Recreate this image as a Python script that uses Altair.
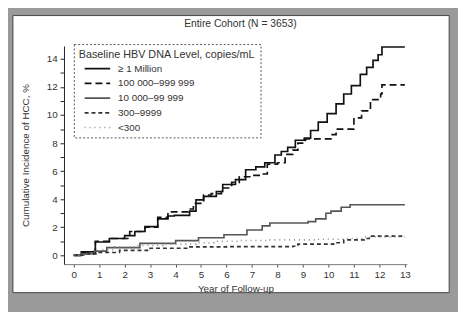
import altair as alt
import pandas as pd

# ---- data (step curves: year, cumulative %) ----
levels = ["≥ 1 Million", "100 000–999 999", "10 000–99 999", "300–9999", "<300"]

yr_1m = [0, 0.3, 0.85, 1.4, 2.0, 2.4, 2.8, 3.3, 3.7, 3.95, 4.55, 4.8, 5.1, 5.6, 5.85, 6.35, 6.75, 7.15, 7.5, 7.9, 8.15, 8.4, 8.7, 9.05, 9.3, 9.6, 9.95, 10.3, 10.6, 10.9, 11.25, 11.5, 11.75, 11.95, 12.1, 13.0]
pc_1m = [0, 0.25, 0.95, 1.2, 1.4, 1.7, 2.05, 2.6, 2.8, 2.85, 3.15, 3.95, 4.2, 4.55, 5.05, 5.4, 6.1, 6.3, 6.6, 7.15, 7.4, 7.7, 8.2, 8.35, 8.9, 9.5, 10.1, 10.8, 11.5, 12.1, 12.9, 13.4, 13.9, 14.3, 14.85, 14.85]

yr_100k = [0, 0.3, 0.85, 1.4, 2.2, 2.8, 3.3, 3.7, 4.1, 4.5, 4.7, 5.1, 5.4, 5.8, 6.2, 6.5, 7.0, 7.4, 7.6, 8.0, 8.3, 8.6, 8.8, 9.1, 10.1, 10.3, 10.95, 11.0, 11.3, 11.65, 12.05, 12.1, 13.0]
pc_100k = [0, 0.2, 1.0, 1.2, 1.7, 2.0, 2.7, 3.1, 3.1, 3.3, 3.7, 4.3, 4.4, 4.8, 5.2, 5.6, 5.7, 5.8, 6.5, 6.6, 7.2, 7.5, 8.0, 8.3, 8.6, 9.0, 9.0, 9.8, 10.3, 11.1, 11.5, 12.15, 12.15]

yr_10k = [0, 0.3, 0.8, 1.3, 2.6, 4.0, 4.9, 5.9, 6.8, 7.4, 7.7, 9.2, 9.5, 9.9, 10.1, 10.5, 10.85, 13.0]
pc_10k = [0, 0.1, 0.3, 0.55, 0.85, 1.05, 1.25, 1.47, 1.8, 2.1, 2.3, 2.4, 2.6, 3.0, 3.15, 3.43, 3.6, 3.6]

yr_300 = [0, 0.5, 1.0, 1.8, 3.0, 4.5, 6.0, 8.6, 8.8, 10.2, 10.6, 11.4, 11.6, 13.0]
pc_300 = [0, 0.1, 0.2, 0.35, 0.5, 0.6, 0.62, 0.65, 0.8, 0.9, 1.1, 1.2, 1.37, 1.37]

yr_lt300 = [0, 0.4, 1.0, 1.6, 2.5, 3.5, 4.8, 5.5, 6.5, 7.6, 9.5, 10.6, 11.4, 13.0]
pc_lt300 = [0, 0.15, 0.4, 0.6, 0.7, 0.8, 0.9, 1.0, 1.05, 1.1, 1.15, 1.2, 1.3, 1.3]

series = [(levels[0], yr_1m, pc_1m), (levels[1], yr_100k, pc_100k),
          (levels[2], yr_10k, pc_10k), (levels[3], yr_300, pc_300),
          (levels[4], yr_lt300, pc_lt300)]

rows = []
for name, xs, ys in series:
    for i, (x, y) in enumerate(zip(xs, ys)):
        rows.append({"level": name, "year": x, "pct": y, "order": i})
df = pd.DataFrame(rows)

x_ticks = list(range(0, 14))
y_ticks = list(range(0, 15))

FONT = "Liberation Sans"
LEG_TITLE = "Baseline HBV DNA Level, copies/mL"

panel = alt.Chart(pd.DataFrame({"a": [0]})).mark_rect(
    fill="white", stroke="#444", strokeWidth=1
).encode(
    x=alt.value(-52), x2=alt.value(392), y=alt.value(-31), y2=alt.value(251)
)

lines = alt.Chart(df).mark_line(interpolate="step-after", clip=False).encode(
    x=alt.X("year:Q", scale=alt.Scale(domain=[-0.38, 13.08], nice=False, zero=False),
            axis=alt.Axis(values=x_ticks, title="Year of Follow-up", grid=False,
                          tickSize=3, labelPadding=3, titlePadding=4, zindex=1,
                          domainColor="#777", tickColor="#555")),
    y=alt.Y("pct:Q", scale=alt.Scale(domain=[-0.63, 14.92], nice=False, zero=False),
            axis=alt.Axis(values=y_ticks, title="Cumulative Incidence of HCC, %", grid=False,
                          labelExpr="datum.value % 2 == 0 ? datum.label : ''",
                          tickSize=4, labelPadding=3, titlePadding=16, zindex=1,
                          domainColor="#222", tickColor="#222")),
    color=alt.Color("level:N", scale=alt.Scale(domain=levels,
                    range=["#111111", "#111111", "#555555", "#333333", "#8a8a8a"]),
                    legend=alt.Legend(title=LEG_TITLE)),
    strokeDash=alt.StrokeDash("level:N", scale=alt.Scale(domain=levels,
                    range=[[1, 0], [7, 4], [1, 0], [4, 3], [1, 4]]),
                    legend=alt.Legend(title=LEG_TITLE)),
    strokeWidth=alt.StrokeWidth("level:N", scale=alt.Scale(domain=levels,
                    range=[1.7, 1.6, 1.0, 1.1, 1.2]),
                    legend=alt.Legend(title=LEG_TITLE)),
    order="order:Q",
)

chart = alt.layer(panel, lines).properties(
    width=349, height=222,
    autosize=alt.AutoSizeParams(type="none"),
    padding={"left": 57, "top": 36, "right": 52, "bottom": 46},
    background="#9a9a9a",
    title=alt.TitleParams("Entire Cohort (N = 3653)", fontSize=10.5, fontWeight="normal",
                          font=FONT, color="#333", offset=-15, dx=5, zindex=1,
                          frame="group"),
).configure_view(stroke=None).configure_axis(
    labelFont=FONT, titleFont=FONT, labelFontSize=10, titleFontSize=10,
    titleFontWeight="normal", labelColor="#333", titleColor="#333",
).configure_legend(
    orient="none", legendX=10, legendY=-2, padding=5, fillColor="white",
    strokeColor="#555", strokeDash=[2, 2], titleFont=FONT, labelFont=FONT,
    titleFontSize=11, titleFontWeight="normal", labelFontSize=10,
    titleColor="#333", labelColor="#333", symbolType="M0,0H5.2", symbolSize=100,
    rowPadding=4, titlePadding=3, labelOffset=28, zindex=1,
)

chart.save("out.html", embed_options={"renderer": "svg", "actions": False})
